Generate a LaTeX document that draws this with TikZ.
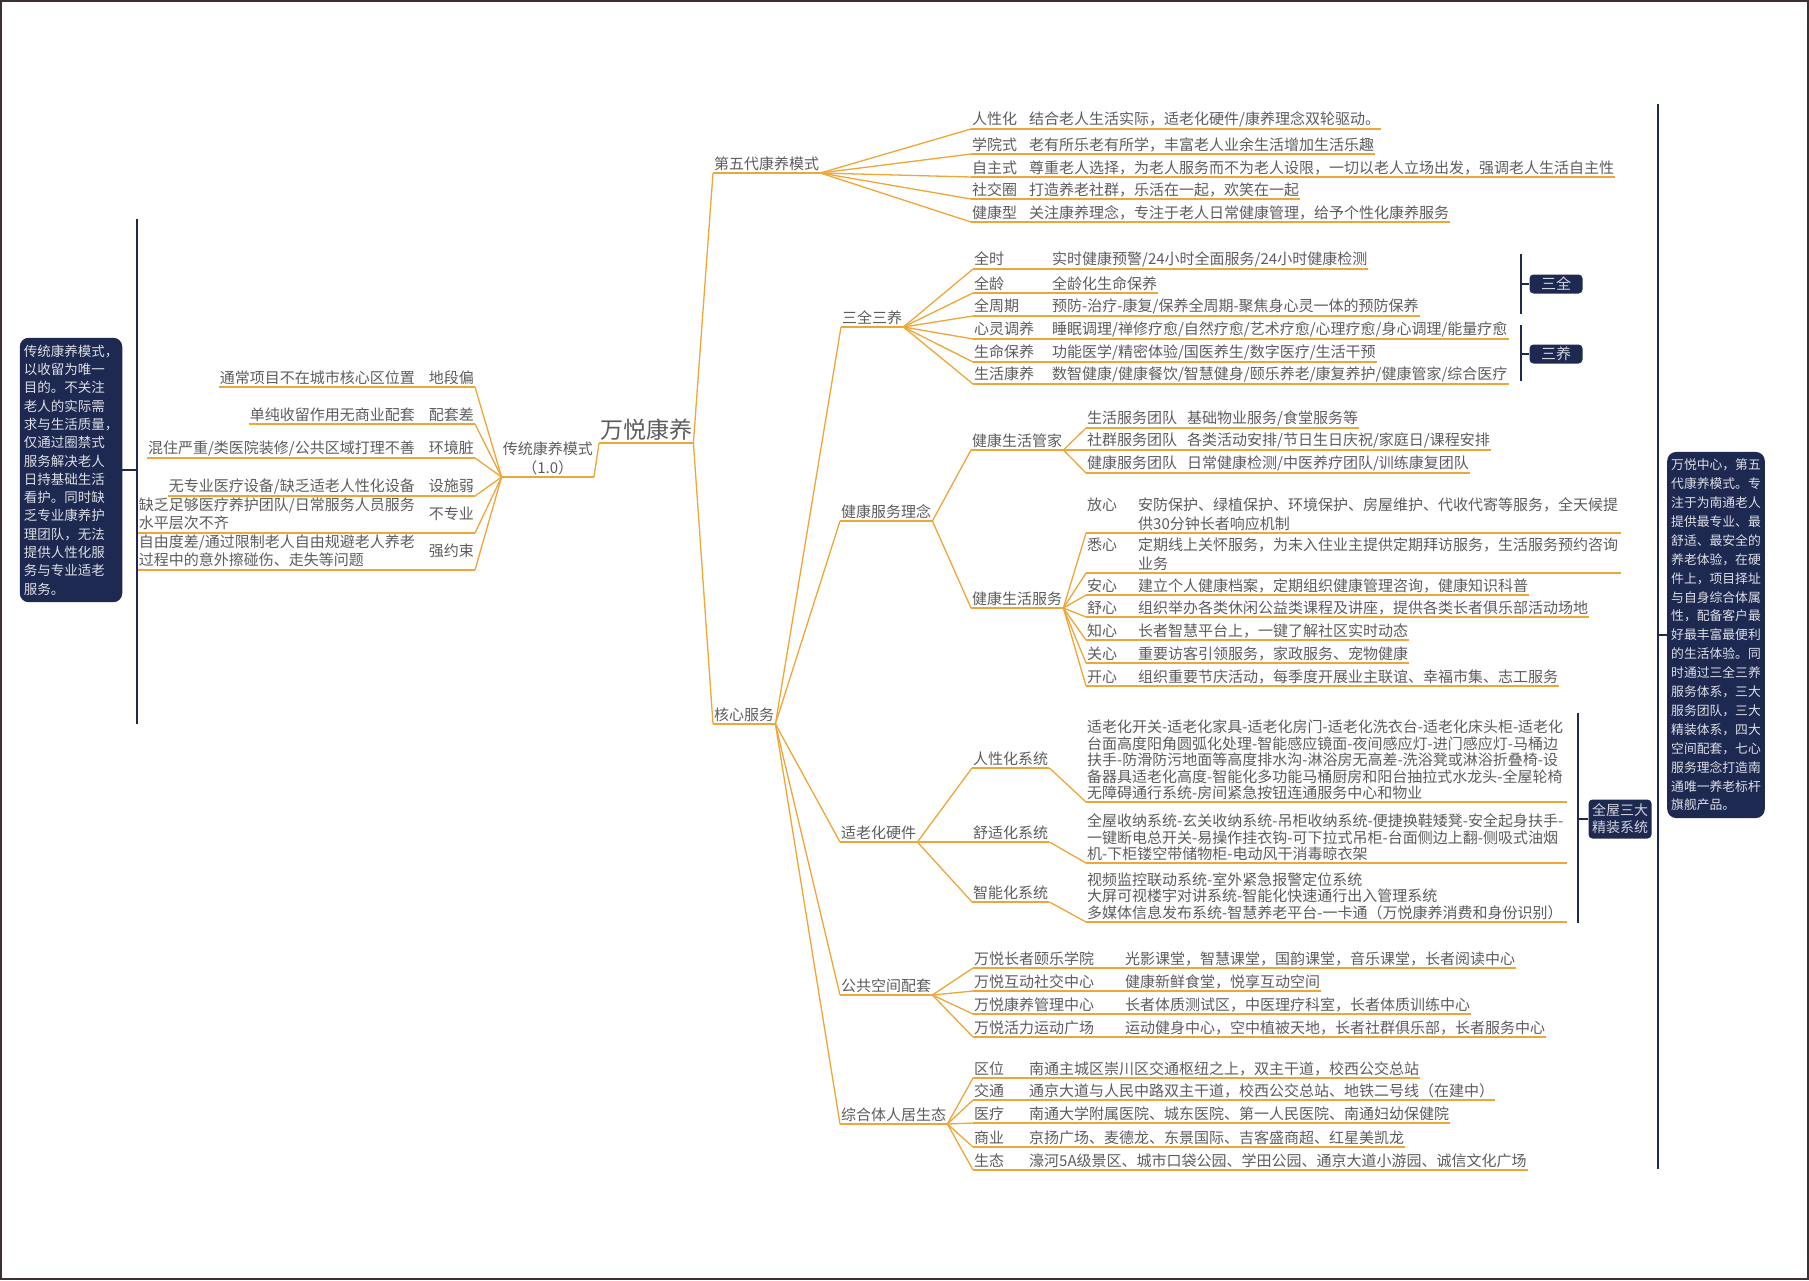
\documentclass[tikz,border=0pt]{standalone}
\usepackage{fontspec}
\setmainfont{Noto Sans CJK SC}
\usetikzlibrary{positioning}
\definecolor{branch}{HTML}{EDA637}
\definecolor{navy}{HTML}{1D2951}
\definecolor{ink}{HTML}{5C5C5C}
\definecolor{rimc}{HTML}{3B3030}
\newcommand\lab[2]{\makebox[#1][l]{#2}}
\newcommand\fsz{\fontsize{15pt}{19pt}\selectfont}
\newcommand\twol[1]{{\fontsize{15pt}{15.5pt}\selectfont\begin{tabular}{@{}l@{}}#1\end{tabular}}}
\tikzset{
  leaf/.style={anchor=south west, inner xsep=1pt, inner ysep=2pt, text=ink, font=\fsz, align=left},
  leafl/.style={leaf, anchor=south east, align=right},
  block/.style={leaf, text width=479pt, font=\fontsize{15pt}{16.5pt}\selectfont},
  link/.style={draw=branch, line width=1.3pt},
  tag/.style={fill=navy, text=white!80!navy, rounded corners=4pt, inner sep=1pt, align=center},
  summary/.style={fill=navy, text=white!85!navy, rounded corners=9pt, inner xsep=4pt, inner ysep=7pt, align=left},
  bracket/.style={draw=navy, line width=1.8pt},
}
\begin{document}
\begin{tikzpicture}[x=1pt, y=-1pt]
\useasboundingbox (0,0) rectangle (1809,1280);
\draw[draw=rimc, line width=2pt] (1,1) rectangle (1808,1279);

\node[leaf, font=\fontsize{23pt}{26pt}\selectfont] (root) at (599,443) {万悦康养};

% left side
\node[leafl, align=center] (ct) at (594,477) {传统康养模式\\（1.0）};
\node[leafl] (l1) at (475,387) {通常项目不在城市核心区位置\hspace{14pt}地段偏};
\node[leafl] (l2) at (475,424) {单纯收留作用无商业配套\hspace{14pt}配套差};
\node[leafl] (l3) at (475,458) {混住严重/类医院装修/公共区域打理不善\hspace{14pt}环境脏};
\node[leafl] (l4) at (475,496) {无专业医疗设备/缺乏适老人性化设备\hspace{14pt}设施弱};
\node[leafl, inner ysep=0pt] (l5) at (475,533) {\twol{缺乏足够医疗养护团队/日常服务人员服务\\水平层次不齐}\hspace{14pt}不专业};
\node[leafl, inner ysep=0pt] (l6) at (475,570) {\twol{自由度差/通过限制老人自由规避老人养老\\过程中的意外擦碰伤、走失等问题}\hspace{14pt}强约束};

\node[summary, minimum width=102pt, minimum height=264pt, font=\fontsize{13.5pt}{18.3pt}\selectfont] (sumL) at (71,470)
  {传统康养模式，\\以收留为唯一\\目的。不关注\\老人的实际需\\求与生活质量，\\仅通过圈禁式\\服务解决老人\\日持基础生活\\看护。同时缺\\乏专业康养护\\理团队，无法\\提供人性化服\\务与专业适老\\服务。};
\coordinate (lt) at (137,219);
\coordinate (lb) at (137,724);

% fifth generation
\node[leaf] (wd) at (713,173) {第五代康养模式};
\node[leaf] (wd1) at (971,129) {\lab{57pt}{人性化}结合老人生活实际，适老化硬件/康养理念双轮驱动。};
\node[leaf] (wd2) at (971,154) {\lab{57pt}{学院式}老有所乐老有所学，丰富老人业余生活增加生活乐趣};
\node[leaf] (wd3) at (971,177) {\lab{57pt}{自主式}尊重老人选择，为老人服务而不为老人设限，一切以老人立场出发，强调老人生活自主性};
\node[leaf] (wd4) at (971,199) {\lab{57pt}{社交圈}打造养老社群，乐活在一起，欢笑在一起};
\node[leaf] (wd5) at (971,222) {\lab{57pt}{健康型}关注康养理念，专注于老人日常健康管理，给予个性化康养服务};

% core services
\node[leaf] (hx) at (713,724) {核心服务};

\node[leaf] (sq) at (841,327) {三全三养};
\node[leaf] (q1) at (973,269) {\lab{78pt}{全时}实时健康预警/24小时全面服务/24小时健康检测};
\node[leaf] (q2) at (973,293) {\lab{78pt}{全龄}全龄化生命保养};
\node[leaf] (q3) at (973,316) {\lab{78pt}{全周期}预防-治疗-康复/保养全周期-聚焦身心灵一体的预防保养};
\node[leaf] (q4) at (973,339) {\lab{78pt}{心灵调养}睡眠调理/禅修疗愈/自然疗愈/艺术疗愈/心理疗愈/身心调理/能量疗愈};
\node[leaf] (q5) at (973,362) {\lab{78pt}{生命保养}功能医学/精密体验/国医养生/数字医疗/生活干预};
\node[leaf] (q6) at (973,384) {\lab{78pt}{生活康养}数智健康/健康餐饮/智慧健身/颐乐养老/康复养护/健康管家/综合医疗};
\node[tag, minimum width=53pt, minimum height=19pt, font=\fsz] (tq) at (1556,284) {三全};
\node[tag, minimum width=53pt, minimum height=19pt, font=\fsz] (ty) at (1556,354) {三养};
\coordinate (qt) at (1521,254);
\coordinate (qb) at (1521,314);
\coordinate (yt) at (1521,325);
\coordinate (yb) at (1521,381);

\node[leaf] (lx) at (840,521) {健康服务理念};
\node[leaf] (gj) at (971,450) {健康生活管家};
\node[leaf] (gj1) at (1086,428) {\lab{100pt}{生活服务团队}基础物业服务/食堂服务等};
\node[leaf] (gj2) at (1086,450) {\lab{100pt}{社群服务团队}各类活动安排/节日生日庆祝/家庭日/课程安排};
\node[leaf] (gj3) at (1086,473) {\lab{100pt}{健康服务团队}日常健康检测/中医养疗团队/训练康复团队};

\node[leaf] (fw) at (971,608) {健康生活服务};
\node[leaf, text width=533pt] (x1) at (1086,533) {\lab{51pt}{放心}安防保护、绿植保护、环境保护、房屋维护、代收代寄等服务，全天候提\\\lab{51pt}{}供30分钟长者响应机制};
\node[leaf, text width=533pt] (x2) at (1086,573) {\lab{51pt}{悉心}定期线上关怀服务，为未入住业主提供定期拜访服务，生活服务预约咨询\\\lab{51pt}{}业务};
\node[leaf] (x3) at (1086,595) {\lab{51pt}{安心}建立个人健康档案，定期组织健康管理咨询，健康知识科普};
\node[leaf] (x4) at (1086,617) {\lab{51pt}{舒心}组织举办各类休闲公益类课程及讲座，提供各类长者俱乐部活动场地};
\node[leaf] (x5) at (1086,640) {\lab{51pt}{知心}长者智慧平台上，一键了解社区实时动态};
\node[leaf] (x6) at (1086,663) {\lab{51pt}{关心}重要访客引领服务，家政服务、宠物健康};
\node[leaf] (x7) at (1086,686) {\lab{51pt}{开心}组织重要节庆活动，每季度开展业主联谊、幸福市集、志工服务};

\node[leaf] (yj) at (840,842) {适老化硬件};
\node[leaf] (s1) at (972,768) {人性化系统};
\node[leaf] (s2) at (972,842) {舒适化系统};
\node[leaf] (s3) at (972,902) {智能化系统};
\node[block] (b1) at (1086,802) {适老化开关-适老化家具-适老化房门-适老化洗衣台-适老化床头柜-适老化\\台面高度阳角圆弧化处理-智能感应镜面-夜间感应灯-进门感应灯-马桶边\\扶手-防滑防污地面等高度排水沟-淋浴房无高差-洗浴凳或淋浴折叠椅-设\\备器具适老化高度-智能化多功能马桶厨房和阳台抽拉式水龙头-全屋轮椅\\无障碍通行系统-房间紧急按钮连通服务中心和物业};
\node[block] (b2) at (1086,863) {全屋收纳系统-玄关收纳系统-吊柜收纳系统-便捷换鞋矮凳-安全起身扶手-\\一键断电总开关-易操作挂衣钩-可下拉式吊柜-台面侧边上翻-侧吸式油烟\\机-下柜镂空带储物柜-电动风干消毒晾衣架};
\node[block] (b3) at (1086,922) {视频监控联动系统-室外紧急报警定位系统\\大屏可视楼宇对讲系统-智能化快速通行出入管理系统\\多媒体信息发布系统-智慧养老平台-一卡通（万悦康养消费和身份识别）};
\node[tag, minimum width=63pt, minimum height=39pt, font=\fontsize{14pt}{17pt}\selectfont] (tj) at (1620,819) {全屋三大\\精装系统};
\coordinate (jt) at (1578,713);
\coordinate (jb) at (1578,923);

\node[leaf] (gg) at (840,995) {公共空间配套};
\node[leaf] (g1) at (973,968) {\lab{151pt}{万悦长者颐乐学院}光影课堂，智慧课堂，国韵课堂，音乐课堂，长者阅读中心};
\node[leaf] (g2) at (973,991) {\lab{151pt}{万悦互动社交中心}健康新鲜食堂，悦享互动空间};
\node[leaf] (g3) at (973,1014) {\lab{151pt}{万悦康养管理中心}长者体质测试区，中医理疗科室，长者体质训练中心};
\node[leaf] (g4) at (973,1037) {\lab{151pt}{万悦活力运动广场}运动健身中心，空中植被天地，长者社群俱乐部，长者服务中心};

\node[leaf] (zh) at (840,1124) {综合体人居生态};
\node[leaf] (z1) at (973,1078) {\lab{55pt}{区位}南通主城区崇川区交通枢纽之上，双主干道，校西公交总站};
\node[leaf] (z2) at (973,1100) {\lab{55pt}{交通}通京大道与人民中路双主干道，校西公交总站、地铁二号线（在建中）};
\node[leaf] (z3) at (973,1123) {\lab{55pt}{医疗}南通大学附属医院、城东医院、第一人民医院、南通妇幼保健院};
\node[leaf] (z4) at (973,1147) {\lab{55pt}{商业}京扬广场、麦德龙、东景国际、吉客盛商超、红星美凯龙};
\node[leaf] (z5) at (973,1170) {\lab{55pt}{生态}濠河5A级景区、城市口袋公园、学田公园、通京大道小游园、诚信文化广场};

\node[summary, minimum width=97pt, minimum height=364pt, font=\fontsize{12.8pt}{18.9pt}\selectfont] (sumR) at (1716,635)
  {万悦中心，第五\\代康养模式。专\\注于为南通老人\\提供最专业、最\\舒适、最安全的\\养老体验，在硬\\件上，项目择址\\与自身综合体属\\性，配备客户最\\好最丰富最便利\\的生活体验。同\\时通过三全三养\\服务体系，三大\\服务团队，三大\\精装体系，四大\\空间配套，七心\\服务理念打造南\\通唯一养老标杆\\旗舰产品。};
\coordinate (rt) at (1658,104);
\coordinate (rb) at (1658,1169);

% underlines and links
\foreach \n in {root,ct,l1,l2,l3,l4,l5,l6,wd,wd1,wd2,wd3,wd4,wd5,hx,sq,q1,q2,q3,q4,q5,q6,lx,gj,gj1,gj2,gj3,fw,x1,x2,x3,x4,x5,x6,x7,yj,s1,s2,s3,b1,b2,b3,gg,g1,g2,g3,g4,zh,z1,z2,z3,z4,z5}
  \draw[link] (\n.south west) -- (\n.south east);
\draw[link] (root.south west) -- (ct.south east);
\foreach \c in {l1,l2,l3,l4,l5,l6} \draw[link] (ct.south west) -- (\c.south east);
\draw[link] (root.south east) -- (wd.south west);
\draw[link] (root.south east) -- (hx.south west);
\foreach \c in {wd1,wd2,wd3,wd4,wd5} \draw[link] (wd.south east) -- (\c.south west);
\foreach \c in {sq,lx,yj,gg,zh} \draw[link] (hx.south east) -- (\c.south west);
\foreach \c in {q1,q2,q3,q4,q5,q6} \draw[link] (sq.south east) -- (\c.south west);
\foreach \c in {gj,fw} \draw[link] (lx.south east) -- (\c.south west);
\foreach \c in {gj1,gj2,gj3} \draw[link] (gj.south east) -- (\c.south west);
\foreach \c in {x1,x2,x3,x4,x5,x6,x7} \draw[link] (fw.south east) -- (\c.south west);
\foreach \c in {s1,s2,s3} \draw[link] (yj.south east) -- (\c.south west);
\draw[link] (s1.south east) -- (b1.south west);
\draw[link] (s2.south east) -- (b2.south west);
\draw[link] (s3.south east) -- (b3.south west);
\foreach \c in {g1,g2,g3,g4} \draw[link] (gg.south east) -- (\c.south west);
\foreach \c in {z1,z2,z3,z4,z5} \draw[link] (zh.south east) -- (\c.south west);

% brackets
\draw[bracket] (lt) -- (lb);
\draw[bracket] (sumL.east) -- (sumL.east -| lt);
\draw[bracket] (rt) -- (rb);
\draw[bracket] (sumR.west) -- (sumR.west -| rt);
\draw[bracket] (qt) -- (qb);
\draw[bracket] (tq.west) -- (tq.west -| qt);
\draw[bracket] (yt) -- (yb);
\draw[bracket] (ty.west) -- (ty.west -| yt);
\draw[bracket] (jt) -- (jb);
\draw[bracket] (tj.west) -- (tj.west -| jt);
\end{tikzpicture}
\end{document}
